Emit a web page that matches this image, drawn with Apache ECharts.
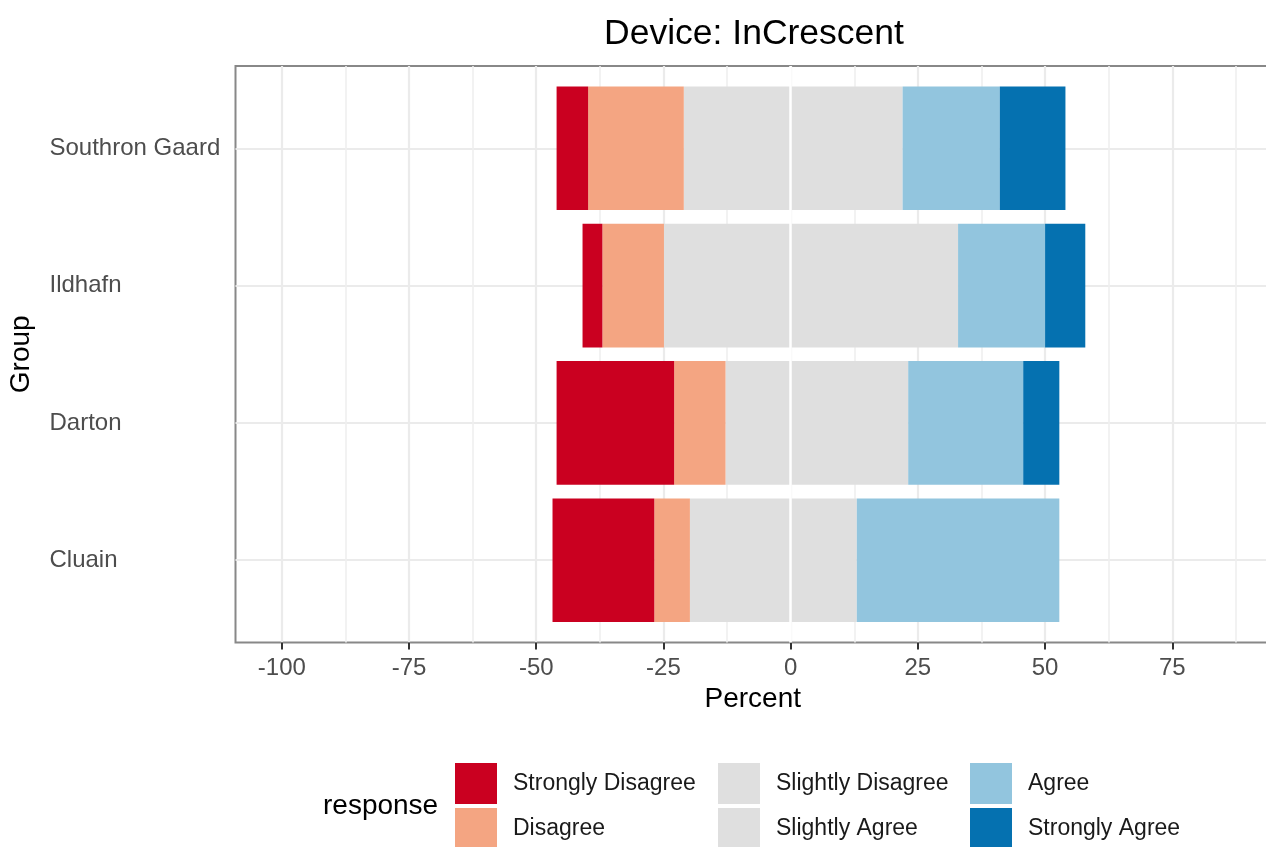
<!DOCTYPE html>
<html>
<head>
<meta charset="utf-8">
<script src="https://cdn.jsdelivr.net/npm/echarts@6/dist/echarts.min.js"></script>
<style>
html, body { margin: 0; padding: 0; background: #ffffff; }
#chart { width: 1266px; height: 847px; }
</style>
</head>
<body>
<div id="chart"></div>
<script>
// ---- data (percent of responses per group) ----
const categories = ['Cluain', 'Darton', 'Ildhafn', 'Southron Gaard'];
const responses = ['Strongly Disagree', 'Disagree', 'Slightly Disagree', 'Slightly Agree', 'Agree', 'Strongly Agree'];
const stronglyDisagree = [20.0, 23.1, 3.9, 6.2];
const disagree         = [7.0, 10.1, 12.1, 18.8];
const slightlyDisagree = [19.8, 12.8, 24.9, 21.0];
const slightlyAgree    = [13.0, 23.1, 32.9, 22.0];
const agree            = [39.8, 22.6, 17.1, 19.1];
const stronglyAgree    = [0, 7.1, 7.9, 12.9];
const majorTicks = [-100, -75, -50, -25, 0, 25, 50, 75];
const minorTicks = [-87.5, -62.5, -37.5, -12.5, 12.5, 37.5, 62.5, 87.5];
const categoryTicks = [0.6, 1.6, 2.6, 3.6];

const FONT = '"Liberation Sans", Arial, Helvetica, sans-serif';
const palette = {
  'Strongly Disagree': '#CA0020',
  'Disagree': '#F4A582',
  'Slightly Disagree': '#DFDFDF',
  'Slightly Agree': '#DFDFDF',
  'Agree': '#92C5DE',
  'Strongly Agree': '#0571B0'
};
const X_MIN = -109.1, X_MAX = 94.2;

function barSeries(name, values, sign) {
  return {
    name: name,
    type: 'bar',
    xAxisIndex: 2,
    yAxisIndex: 1,
    stack: 'resp',
    barWidth: '90%',
    itemStyle: { color: palette[name] },
    emphasis: { disabled: true },
    data: values.map(v => sign * v)
  };
}

const legendBase = {
  orient: 'vertical',
  padding: 0,
  height: 120,
  width: 260,
  itemWidth: 42,
  itemHeight: 41,
  itemGap: 4,
  icon: 'rect',
  selectedMode: false,
  textStyle: { fontSize: 23, color: '#1a1a1a', fontFamily: FONT, padding: [4, 0, 0, 11] }
};

const chart = echarts.init(document.getElementById('chart'), null, { renderer: 'canvas' });
chart.setOption({
  animation: false,
  backgroundColor: '#ffffff',
  textStyle: { fontFamily: FONT },
  title: {
    text: 'Device: InCrescent',
    left: 749,
    textAlign: 'center',
    top: 11,
    textStyle: { fontSize: 35.5, fontWeight: 'normal', color: '#000000', fontFamily: FONT }
  },
  legend: [
    Object.assign({}, legendBase, { left: 455, top: 763, data: [responses[0], responses[1]] }),
    Object.assign({}, legendBase, { left: 718, top: 763, data: [responses[2], responses[3]] }),
    Object.assign({}, legendBase, { left: 970, top: 763, data: [responses[4], responses[5]] })
  ],
  graphic: [{
    type: 'text',
    x: 323,
    y: 806,
    style: { text: 'response', fontSize: 28, fill: '#000000', fontFamily: FONT, align: 'left', verticalAlign: 'middle' }
  }],
  grid: [
    { left: 235.5, top: 66, width: 1034.5, height: 576.5, show: true, borderColor: '#888888', borderWidth: 2, backgroundColor: 'transparent', outerBoundsMode: 'none', containLabel: false },
    { left: 235.5, top: 79.7, width: 1034.5, height: 549.1, show: false, outerBoundsMode: 'none', containLabel: false }
  ],
  xAxis: [
    {
      gridIndex: 0, type: 'value', position: 'bottom', min: X_MIN, max: X_MAX,
      axisLine: { show: false },
      axisTick: { show: true, customValues: majorTicks, length: 7, lineStyle: { color: '#333333', width: 2 } },
      axisLabel: { show: true, customValues: majorTicks, color: '#4D4D4D', fontSize: 24, fontFamily: FONT, margin: 14 },
      splitLine: { show: true, lineStyle: { color: '#EBEBEB', width: 2.2 } },
      name: 'Percent', nameLocation: 'middle', nameGap: 42,
      nameTextStyle: { fontSize: 28, color: '#000000', fontFamily: FONT }
    },
    {
      gridIndex: 0, type: 'value', position: 'top', min: X_MIN, max: X_MAX,
      axisLine: { show: false },
      axisTick: { show: false, customValues: minorTicks },
      axisLabel: { show: false, customValues: minorTicks },
      splitLine: { show: true, lineStyle: { color: '#EFEFEF', width: 1.6 } }
    },
    {
      gridIndex: 1, type: 'value', min: X_MIN, max: X_MAX, show: false
    }
  ],
  yAxis: [
    {
      gridIndex: 0, type: 'value', min: 0, max: 4.2,
      axisLine: { show: false },
      axisTick: { show: false, customValues: categoryTicks },
      axisLabel: { show: false, customValues: categoryTicks },
      splitLine: { show: true, lineStyle: { color: '#EBEBEB', width: 2.2 } },
      name: 'Group', nameLocation: 'middle', nameRotate: 90, nameGap: 200,
      nameTextStyle: { fontSize: 28, color: '#000000', fontFamily: FONT }
    },
    {
      gridIndex: 1, type: 'category', data: categories,
      axisLine: { show: false },
      axisTick: { show: true, alignWithLabel: true, length: 7, lineStyle: { color: '#333333', width: 2 } },
      axisLabel: { show: true, align: 'left', margin: 186, color: '#4D4D4D', fontSize: 24, fontFamily: FONT, padding: [4, 0, 0, 0] },
      splitLine: { show: false }
    }
  ],
  series: [
    barSeries('Slightly Disagree', slightlyDisagree, -1),
    barSeries('Disagree', disagree, -1),
    barSeries('Strongly Disagree', stronglyDisagree, -1),
    barSeries('Slightly Agree', slightlyAgree, 1),
    barSeries('Agree', agree, 1),
    barSeries('Strongly Agree', stronglyAgree, 1),
    {
      name: 'zero', type: 'line', xAxisIndex: 0, yAxisIndex: 0, data: [], z: 6,
      markLine: {
        silent: true, symbol: ['none', 'none'], label: { show: false },
        lineStyle: { color: '#ffffff', width: 2.5, type: 'solid' },
        data: [{ xAxis: 0 }]
      }
    }
  ]
});
</script>
</body>
</html>
